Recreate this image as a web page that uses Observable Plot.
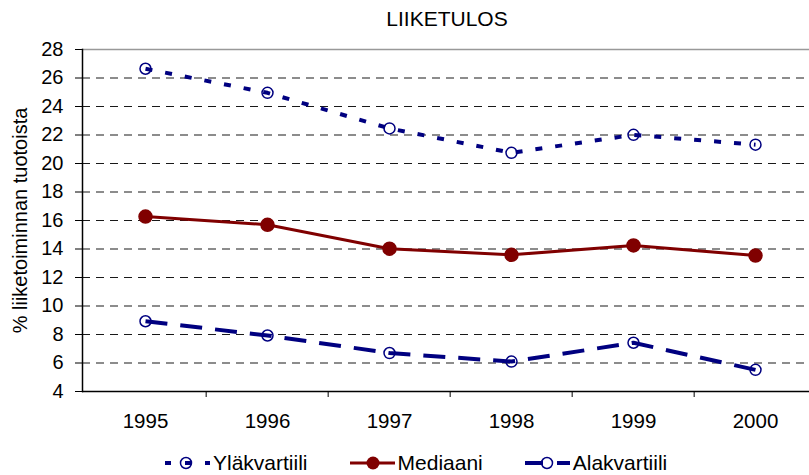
<!DOCTYPE html>
<html>
<head>
<meta charset="utf-8">
<script src="https://cdn.jsdelivr.net/npm/d3@7"></script>
<script src="https://cdn.jsdelivr.net/npm/@observablehq/plot@0.6"></script>
<style>
  html, body { margin: 0; padding: 0; background: #fff; }
  body { font-family: "Liberation Sans", Arial, sans-serif; color: #000; }
  #wrap { position: relative; width: 809px; height: 475px; overflow: hidden; }
  #title { position: absolute; left: 347px; width: 200px; top: 7px; text-align: center; font-size: 21px; line-height: 24px; }
  #chart { position: absolute; left: 0; top: 0; }
  #legend { position: absolute; left: 165px; top: 451px; display: flex; align-items: center; font-size: 21px; line-height: 24px; }
  .item { display: flex; align-items: center; margin-right: 42px; }
  .item svg { display: block; margin-right: 3px; }
</style>
</head>
<body>
<div id="wrap">
  <div id="title">LIIKETULOS</div>
  <div id="chart"></div>
  <div id="legend"></div>
</div>
<script>
// ---- data ----
const years = ["1995", "1996", "1997", "1998", "1999", "2000"];
const upperQuartile = [26.65, 24.96, 22.46, 20.75, 22.01, 21.32];
const medianValues = [16.28, 15.70, 14.02, 13.59, 14.25, 13.54];
const lowerQuartile = [8.93, 7.93, 6.70, 6.10, 7.42, 5.52];
const yTicks = [4, 6, 8, 10, 12, 14, 16, 18, 20, 22, 24, 26, 28];
const gridTicks = [6, 8, 10, 12, 14, 16, 18, 20, 22, 24, 26];
const seriesNames = ["Yläkvartiili", "Mediaani", "Alakvartiili"];
const yLabel = "% liiketoiminnan tuotoista";

// ---- chart ----
const W = 809, H = 440, left = 82, right = 818;
const step = (right - left) / years.length;
const rows = years.map((y, i) => ({year: y, upper: upperQuartile[i], median: medianValues[i], lower: lowerQuartile[i]}));
const navy = "#000080", maroon = "#800000";

const chart = Plot.plot({
  width: W,
  height: H,
  marginTop: 49,
  marginBottom: 49,
  marginLeft: left,
  marginRight: 0,
  style: {fontFamily: "'Liberation Sans', Arial, sans-serif", fontSize: "20px", color: "#000", background: "transparent", overflow: "hidden"},
  x: {type: "point", domain: years, range: [left, right], padding: 0.5},
  y: {domain: [4, 28]},
  marks: [
    Plot.ruleY(gridTicks, {stroke: "#000", strokeDasharray: "8,6", strokeWidth: 1, strokeOpacity: 0.9}),
    Plot.ruleY([28], {stroke: "#999", strokeWidth: 1.5}),
    Plot.ruleY([4], {stroke: "#000", strokeWidth: 1.5}),
    Plot.frame({anchor: "left", stroke: "#000", strokeWidth: 1.5}),
    Plot.axisY({ticks: yTicks, tickSize: 7, tickPadding: 12, fontSize: 20, label: yLabel, labelAnchor: "center", labelOffset: 70, labelArrow: "none"}),
    Plot.axisX({ticks: years, tickSize: 0, tickPadding: 22, fontSize: 20.5, label: null}),
    Plot.axisX({ticks: years.slice(1), tickSize: 6, tickFormat: () => "", dx: -step / 2, label: null}),
    Plot.line(rows, {x: "year", y: "upper", stroke: navy, strokeWidth: 4, strokeDasharray: "7,13", strokeLinecap: "butt"}),
    Plot.line(rows, {x: "year", y: "median", stroke: maroon, strokeWidth: 3}),
    Plot.line(rows, {x: "year", y: "lower", stroke: navy, strokeWidth: 4, strokeDasharray: "22,13", strokeLinecap: "butt"}),
    Plot.dot(rows, {x: "year", y: "upper", r: 5.5, stroke: navy, strokeWidth: 1.5, fill: "none"}),
    Plot.dot(rows, {x: "year", y: "median", r: 6.5, fill: maroon, stroke: maroon}),
    Plot.dot(rows, {x: "year", y: "lower", r: 5.5, stroke: navy, strokeWidth: 1.5, fill: "none"})
  ]
});
document.getElementById("chart").appendChild(chart);

// ---- legend ----
const swatches = [
  `<svg width="45" height="20"><line x1="0" y1="10" x2="45" y2="10" stroke="${navy}" stroke-width="4" stroke-dasharray="6,14"/><circle cx="21" cy="10" r="5.5" fill="none" stroke="${navy}" stroke-width="1.5"/></svg>`,
  `<svg width="45" height="20"><line x1="0" y1="10" x2="45" y2="10" stroke="${maroon}" stroke-width="3"/><circle cx="23" cy="10" r="6.5" fill="${maroon}"/></svg>`,
  `<svg width="45" height="20"><line x1="0" y1="10" x2="45" y2="10" stroke="${navy}" stroke-width="4" stroke-dasharray="18,14"/><circle cx="22" cy="10" r="5.5" fill="none" stroke="${navy}" stroke-width="1.5"/></svg>`
];
document.getElementById("legend").innerHTML = seriesNames.map((n, i) =>
  `<div class="item">${swatches[i]}<span>${n}</span></div>`).join("");
</script>
</body>
</html>
